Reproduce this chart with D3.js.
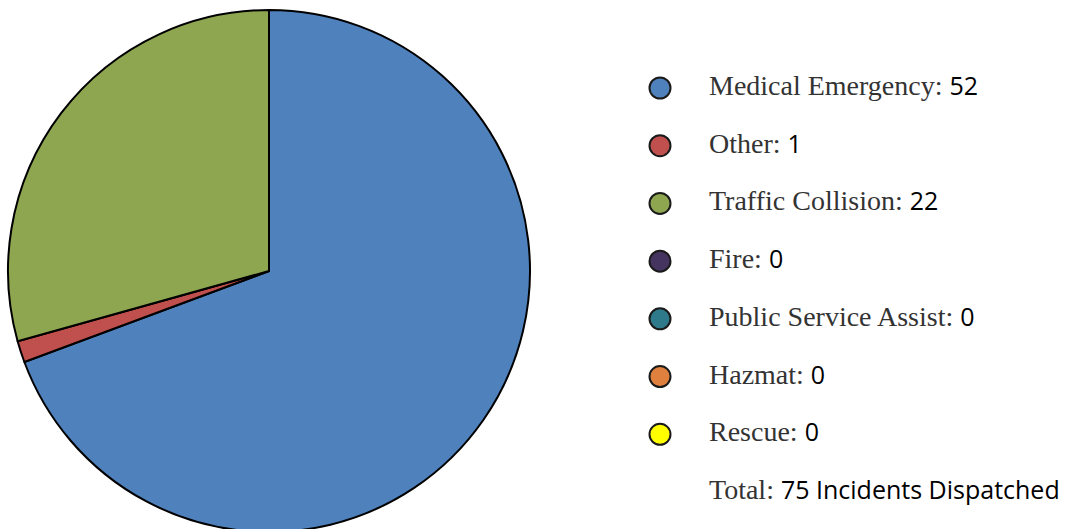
<!DOCTYPE html>
<html>
<head>
<meta charset="utf-8">
<script src="https://cdnjs.cloudflare.com/ajax/libs/d3/7.8.5/d3.min.js"></script>
<style>
  body { margin: 0; background: #fff; }
  .lbl { font-family: "Liberation Serif", serif; fill: #333; font-size: 28px; }
  .num { font-family: "Open Sans", "Liberation Sans", sans-serif; fill: #000; font-size: 25px; }
</style>
</head>
<body>
<script>
// incident categories and counts
var categories = ["Medical Emergency", "Other", "Traffic Collision", "Fire", "Public Service Assist", "Hazmat", "Rescue"];
var counts = [52, 1, 22, 0, 0, 0, 0];
var colors = ["#4f81bd", "#c0504d", "#8ea64f", "#45345f", "#2e7a8a", "#e0803f", "#ffff00"];
var totalLabel = "Total: ";
var totalText = "75 Incidents Dispatched";

var width = 1070, height = 529;

var svg = d3.select("body").append("svg")
    .attr("width", width)
    .attr("height", height);

var data = categories.map(function(c, i) {
    return { name: c, value: counts[i], color: colors[i] };
});

//pie
var pie = d3.pie().sort(null).value(function(d) { return d.value; });
var arc = d3.arc().innerRadius(0).outerRadius(261);

var g = svg.append("g").attr("transform", "translate(269,271)");
g.selectAll("path")
    .data(pie(data).filter(function(d) { return d.data.value > 0; }))
    .enter()
    .append("path")
    .attr("d", arc)
    .attr("fill", function(d) { return d.data.color; })
    .attr("stroke", "#000")
    .attr("stroke-width", 2)
    .attr("stroke-linejoin", "round");

//legend
var y = d3.scalePoint().domain(categories.concat(["total"])).range([87, 491]);

var leg = svg.selectAll(".leg")
    .data(data)
    .enter()
    .append("g")
    .attr("class", "leg")
    .attr("transform", function(d) { return "translate(0," + y(d.name) + ")"; });

leg.append("circle")
    .attr("cx", 660)
    .attr("cy", 1)
    .attr("r", 10.5)
    .attr("fill", function(d) { return d.color; })
    .attr("stroke", "#1a1a1a")
    .attr("stroke-width", 2);

var t = leg.append("text")
    .attr("x", 709)
    .attr("y", 8);
t.append("tspan").attr("class", "lbl").text(function(d) { return d.name + ": "; });
t.append("tspan").attr("class", "num").text(function(d) { return d.value; });

var tt = svg.append("text").attr("x", 709).attr("y", y("total") + 8);
tt.append("tspan").attr("class", "lbl").text(totalLabel);
tt.append("tspan").attr("class", "num").text(totalText);
</script>
</body>
</html>
